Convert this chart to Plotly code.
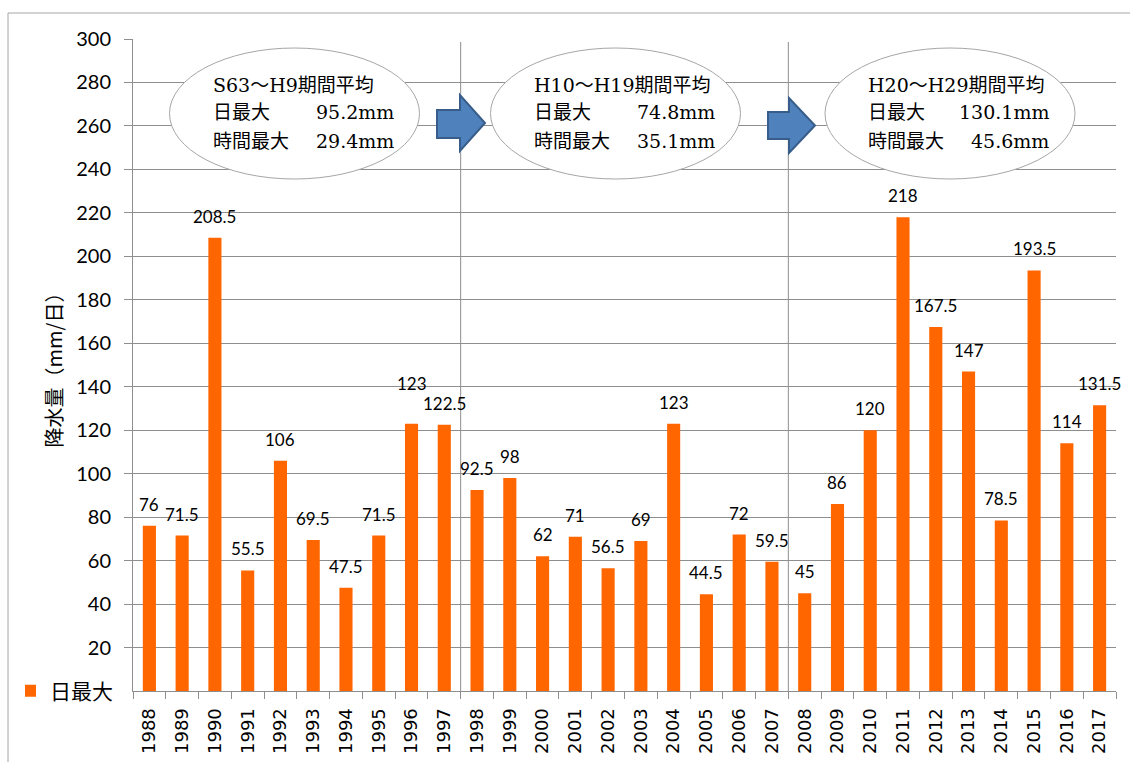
import plotly.graph_objects as go

# ---------------- data ----------------
years = [str(y) for y in range(1988, 2018)]
daily_max = [76, 71.5, 208.5, 55.5, 106, 69.5, 47.5, 71.5, 123, 122.5,
             92.5, 98, 62, 71, 56.5, 69, 123, 44.5, 72, 59.5,
             45, 86, 120, 218, 167.5, 147, 78.5, 193.5, 114, 131.5]
y_ticks = list(range(20, 301, 20))
period_titles = ["S63～H9期間平均", "H10～H19期間平均", "H20～H29期間平均"]
period_daily = ["95.2mm", "74.8mm", "130.1mm"]
period_hourly = ["29.4mm", "35.1mm", "45.6mm"]
row_labels = ["日最大", "時間最大"]
series_name = "日最大"
y_title = "降水量（mm/日）"

# ---------------- layout geometry (pixels) ----------------
FIG_W, FIG_H = 1130, 762
L, R, T, B = 133, 1116, 39, 691
PW, PH = R - L, B - T


def px(x):
    return (x - L) / PW


def py(y):
    return (B - y) / PH


GRID = "#8E8E8E"
ORANGE = "#FF6600"
CJK = "Noto Sans CJK JP"
LABEL_SHIFT = 9           # px gap between bar top and its label
EXTRA_RAISE = {"1996": 19}  # label lifted to avoid overlap, as in the original

fig = go.Figure()
fig.add_trace(go.Bar(
    x=years, y=daily_max, name=series_name,
    marker=dict(color=ORANGE, line=dict(width=0)),
    width=0.4,
))

annotations = []
# data labels (category index positions)
for i, (yr, v) in enumerate(zip(years, daily_max)):
    annotations.append(dict(
        x=i, y=v, xref="x", yref="y", text=f"{v:g}", showarrow=False,
        yanchor="bottom", yshift=LABEL_SHIFT + EXTRA_RAISE.get(yr, 0),
        font=dict(family=f"Lato, {CJK}", size=17, color="#000000"),
    ))

shapes = []
# outer frame
shapes.append(dict(type="rect", xref="paper", yref="paper",
                   x0=px(8), x1=px(1250), y0=py(13), y1=py(900),
                   line=dict(color="#A6A6A6", width=1), layer="below"))
# period divider lines (between 1997/1998 and 2007/2008)
for xb in (9.5, 19.5):
    shapes.append(dict(type="line", xref="x", yref="paper",
                       x0=xb, x1=xb, y0=0, y1=py(42),
                       line=dict(color=GRID, width=1), layer="below"))

# ellipses with period averages
centers = [294.5, 615.5, 950]
for cx, ttl, dv, hv in zip(centers, period_titles, period_daily, period_hourly):
    shapes.append(dict(type="circle", xref="paper", yref="paper",
                       x0=px(cx - 125), x1=px(cx + 125), y0=py(179), y1=py(48),
                       fillcolor="white", line=dict(color="#A6A6A6", width=1),
                       layer="above"))
    f = dict(family=f"DejaVu Serif, {CJK}", size=19, color="#000000")
    annotations.append(dict(x=px(cx - 84), y=py(85), xref="paper", yref="paper",
                            text=ttl, showarrow=False, xanchor="left",
                            yanchor="middle", font=f))
    for ly, lab, val in ((112.5, row_labels[0], dv), (140.5, row_labels[1], hv)):
        annotations.append(dict(x=px(cx - 84), y=py(ly), xref="paper", yref="paper",
                                text=lab, showarrow=False, xanchor="left",
                                yanchor="middle", font=f))
        annotations.append(dict(x=px(cx + 101), y=py(ly), xref="paper", yref="paper",
                                text=val, showarrow=False, xanchor="right",
                                yanchor="middle", font=f))

# block arrows
arrows = [
    [(437, 110), (460, 110), (460, 95), (485, 123), (460, 151), (460, 138), (437, 138)],
    [(768, 112), (789, 112), (789, 98), (815, 125.5), (789, 153), (789, 139), (768, 139)],
]
for pts in arrows:
    path = "M " + " L ".join(f"{px(a):.5f},{py(b):.5f}" for a, b in pts) + " Z"
    shapes.append(dict(type="path", xref="paper", yref="paper", path=path,
                       fillcolor="#4F81BD", line=dict(color="#385D8A", width=2),
                       layer="above"))

fig.update_layout(
    width=FIG_W, height=FIG_H,
    margin=dict(l=L, r=FIG_W - R, t=T, b=FIG_H - B, pad=0, autoexpand=False),
    paper_bgcolor="white", plot_bgcolor="white",
    bargap=0.6,
    showlegend=True,
    legend=dict(x=px(25), y=py(691), xanchor="left", yanchor="middle",
                bgcolor="rgba(0,0,0,0)", borderwidth=0, indentation=-15,
                font=dict(family=CJK, size=21, color="#000000"),
                itemwidth=30),
    xaxis=dict(
        type="category", categoryorder="array", categoryarray=years,
        range=[-0.5, len(years) - 0.5], autorange=False, automargin=False,
        showgrid=False,
        showline=True, linecolor=GRID, linewidth=1,
        ticks="outside", tickson="boundaries", ticklen=7, tickcolor=GRID,
        tickangle=-90, ticklabelstandoff=9,
        tickfont=dict(family="DejaVu Sans", size=18, color="#000000"),
    ),
    yaxis=dict(
        range=[0, 300], autorange=False, automargin=False,
        tickmode="array", tickvals=y_ticks,
        showgrid=True, gridcolor=GRID, gridwidth=1,
        showline=True, linecolor=GRID, linewidth=1,
        ticks="outside", ticklen=8, tickcolor=GRID,
        ticklabelstandoff=9,
        tickfont=dict(family=f"Lato, {CJK}", size=20, color="#000000"),
        zeroline=False,
        title=dict(text=y_title, standoff=8,
                   font=dict(family=CJK, size=20, color="#000000")),
    ),
    annotations=annotations,
    shapes=shapes,
)

fig.write_html("out.html")
